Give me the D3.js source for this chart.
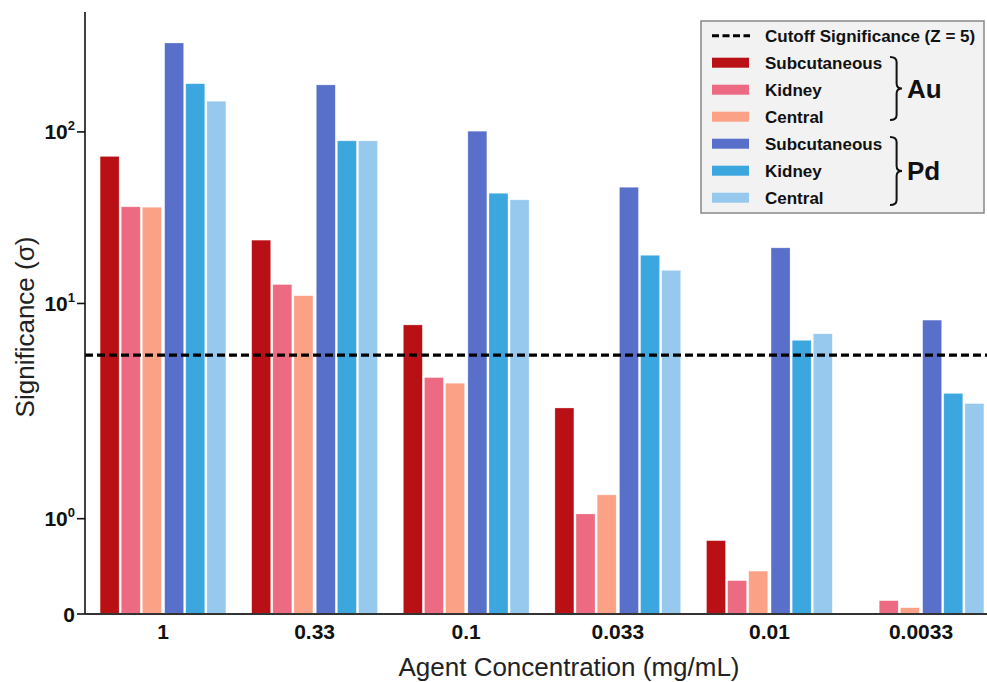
<!DOCTYPE html>
<html>
<head>
<meta charset="utf-8">
<script src="https://cdn.jsdelivr.net/npm/d3@7"></script>
<style>
  body { margin: 0; background: #fff; }
  svg { font-family: "Liberation Sans", Arial, sans-serif; }
</style>
</head>
<body>
<script>
// Data
var categories = ["1", "0.33", "0.1", "0.033", "0.01", "0.0033"];
var seriesNames = ["Subcutaneous", "Kidney", "Central", "Subcutaneous", "Kidney", "Central"];
var seriesMetal = ["Au", "Au", "Au", "Pd", "Pd", "Pd"];
var auSubcutaneous = [72, 23.4, 7.5, 2.46, 0.77, 0];
var auKidney = [36.6, 12.9, 3.7, 1.05, 0.35, 0.14];
var auCentral = [36.4, 11.1, 3.43, 1.25, 0.45, 0.066];
var pdSubcutaneous = [330, 188, 101, 47.6, 21.1, 8.0];
var pdKidney = [191, 88.7, 43.9, 19.1, 6.1, 2.99];
var pdCentral = [151, 88.7, 40.2, 15.6, 6.66, 2.61];
var cutoff = 5;
var yTicks = [0, 1, 10, 100];
var yTickExp = ["", "0", "1", "2"];
var colors = ["#b81015", "#ec6a82", "#fba185", "#5870c9", "#3ca6df", "#97c9ee"];

var series = [auSubcutaneous, auKidney, auCentral, pdSubcutaneous, pdKidney, pdCentral];

var width = 987, height = 682;
var plotLeft = 85, plotBottom = 614, plotTop = 12, plotRight = 987;

var svg = d3.select("body").append("svg")
    .attr("width", width)
    .attr("height", height);

// symmetric log transform (linear below 2, log above)
var linthresh = 2, linscale = 1 / (1 - 1 / 10);
function symT(v) {
    return v <= linthresh ? v * linscale : linthresh * (linscale + Math.log10(v / linthresh));
}

var yLin = d3.scaleLinear().domain([0, symT(500)]).range([plotBottom, plotTop]);
function y(v) { return yLin(symT(v)); }

var x = d3.scalePoint().domain(categories).range([163, 921]);
var sub = d3.scaleBand().domain(d3.range(6)).range([-62.3, 62.3]).paddingInner(0.1);

// bars
series.forEach(function(vals, s) {
    svg.append("g")
        .selectAll("rect")
        .data(vals)
        .enter()
        .append("rect")
        .attr("x", function(d, i) { return x(categories[i]) + sub(s) + (s < 3 ? -0.6 : 0.6); })
        .attr("width", sub.bandwidth())
        .attr("y", function(d) { return y(d); })
        .attr("height", function(d) { return plotBottom - y(d); })
        .attr("fill", colors[s])
        .attr("stroke", "#fff")
        .attr("stroke-opacity", 0.5)
        .attr("stroke-width", 0.6);
});

// cutoff line
svg.append("line")
    .attr("x1", plotLeft).attr("x2", plotRight)
    .attr("y1", y(cutoff)).attr("y2", y(cutoff))
    .attr("stroke", "#000")
    .attr("stroke-width", 3.2)
    .attr("stroke-dasharray", "8,4");

// y axis
var yAxis = svg.append("g");
yAxis.append("line")
    .attr("x1", plotLeft).attr("x2", plotLeft)
    .attr("y1", plotTop).attr("y2", plotBottom)
    .attr("stroke", "#111").attr("stroke-width", 1.6);
yTicks.forEach(function(t, i) {
    yAxis.append("line")
        .attr("x1", plotLeft - 8).attr("x2", plotLeft)
        .attr("y1", y(t)).attr("y2", y(t))
        .attr("stroke", "#111").attr("stroke-width", 1.6);
    var txt = yAxis.append("text")
        .attr("x", plotLeft - 10)
        .attr("y", y(t) + 7.5)
        .attr("text-anchor", "end")
        .attr("font-weight", "bold")
        .attr("font-size", 21)
        .attr("fill", "#111");
    if (t === 0) {
        txt.text("0");
    } else {
        txt.append("tspan").text("10");
        txt.append("tspan").attr("font-size", 13).attr("dy", -9).text(yTickExp[i]);
    }
});

// x axis
svg.append("line")
    .attr("x1", plotLeft).attr("x2", plotRight)
    .attr("y1", plotBottom).attr("y2", plotBottom)
    .attr("stroke", "#333").attr("stroke-width", 2);
svg.append("g")
    .selectAll("text")
    .data(categories)
    .enter()
    .append("text")
    .attr("x", function(d) { return x(d); })
    .attr("y", 639)
    .attr("text-anchor", "middle")
    .attr("font-weight", "bold")
    .attr("font-size", 21)
    .attr("fill", "#111")
    .text(function(d) { return d; });

// axis titles
svg.append("text")
    .attr("x", 569)
    .attr("y", 676)
    .attr("text-anchor", "middle")
    .attr("font-size", 26)
    .attr("fill", "#222")
    .text("Agent Concentration (mg/mL)");

svg.append("text")
    .attr("transform", "translate(34,327) rotate(-90)")
    .attr("text-anchor", "middle")
    .attr("font-size", 26)
    .attr("fill", "#222")
    .text("Significance (σ)");

// legend
var legend = svg.append("g");
legend.append("rect")
    .attr("x", 701).attr("y", 21)
    .attr("width", 283).attr("height", 192)
    .attr("fill", "#f2f2f2")
    .attr("stroke", "#888")
    .attr("stroke-width", 1.5);

var rowY = d3.scaleLinear().domain([0, 6]).range([35.7, 197.7]);

legend.append("line")
    .attr("x1", 712).attr("x2", 750)
    .attr("y1", rowY(0)).attr("y2", rowY(0))
    .attr("stroke", "#000").attr("stroke-width", 3)
    .attr("stroke-dasharray", "7,3.5");
legend.append("text")
    .attr("x", 765).attr("y", rowY(0) + 6)
    .attr("font-weight", "bold").attr("font-size", 17)
    .attr("fill", "#111")
    .text("Cutoff Significance (Z = 5)");

seriesNames.forEach(function(name, s) {
    legend.append("rect")
        .attr("x", 712).attr("y", rowY(s + 1) - 5)
        .attr("width", 37).attr("height", 10)
        .attr("fill", colors[s]);
    legend.append("text")
        .attr("x", 765).attr("y", rowY(s + 1) + 6)
        .attr("font-weight", "bold").attr("font-size", 17)
        .attr("fill", "#111")
        .text(name);
});

// curly braces grouping the metals
function brace(x0, y0, y1, w) {
    var ym = (y0 + y1) / 2, xm = x0 + w * 0.55, r = 5;
    return "M" + x0 + "," + y0 +
        " Q" + xm + "," + y0 + " " + xm + "," + (y0 + r) +
        " L" + xm + "," + (ym - r) +
        " Q" + xm + "," + ym + " " + (x0 + w) + "," + ym +
        " Q" + xm + "," + ym + " " + xm + "," + (ym + r) +
        " L" + xm + "," + (y1 - r) +
        " Q" + xm + "," + y1 + " " + x0 + "," + y1;
}
var groups = [{ name: "Au", y0: 57, y1: 120 }, { name: "Pd", y0: 137, y1: 205 }];
groups.forEach(function(g) {
    legend.append("path")
        .attr("d", brace(890, g.y0, g.y1, 12))
        .attr("fill", "none")
        .attr("stroke", "#111")
        .attr("stroke-width", 2);
    legend.append("text")
        .attr("x", 907).attr("y", (g.y0 + g.y1) / 2 + 9)
        .attr("font-weight", "bold").attr("font-size", 26)
        .attr("fill", "#111")
        .text(g.name);
});
</script>
</body>
</html>
